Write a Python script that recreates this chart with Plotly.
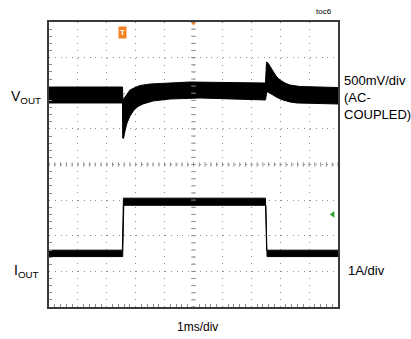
import numpy as np
import plotly.graph_objects as go

# ---- data (time in ms, VOUT in mV relative to pre-step level, IOUT in A relative to low level)
vout_upper_t = [-5.0, -2.457, -2.44, -2.37, -2.30, -2.197, -2.059, -1.851, -1.505, -0.986, -0.121,
                2.491, 2.526, 2.578, 2.647, 2.751, 2.855, 2.993, 3.166, 3.339, 3.685, 5.0]
vout_upper_mv = [112, 112, -70, -28, 14, 70, 98, 133, 154, 168, 182,
                 168, 463, 449, 407, 330, 267, 211, 168, 140, 119, 105]
vout_lower_t = [-5.0, -2.457, -2.45, -2.422, -2.37, -2.301, -2.197, -2.059, -1.92, -1.747, -1.401,
                -0.813, 0.225, 2.491, 2.533, 2.578, 2.751, 2.924, 3.097, 3.339, 3.581, 5.0]
vout_lower_mv = [-112, -112, -604, -611, -505, -393, -295, -211, -161, -126, -84,
                 -56, -42, -70, 42, 42, 0, -42, -70, -98, -112, -126]

iout_upper_t = [-5.0, -2.462, -2.425, 2.49, 2.53, 5.0]
iout_upper_a = [0.09, 0.09, 1.55, 1.55, 0.09, 0.09]
iout_lower_t = [-5.0, -2.45, -2.412, 2.505, 2.545, 5.0]
iout_lower_a = [-0.09, -0.09, 1.35, 1.35, -0.09, -0.09]

trigger_t = -2.44
trigger_level_t = 4.82
trigger_level_div = -1.40

# ---- screen geometry (divisions)
VOUT_ZERO_DIV = 1.951   # screen division where VOUT 0 mV sits
IOUT_ZERO_DIV = -2.495  # screen division where IOUT 0 A sits

fig = go.Figure()

trace_col = "#000000"
fig.add_trace(go.Scatter(x=vout_upper_t, y=vout_upper_mv, yaxis="y2", mode="lines",
                         line=dict(color=trace_col, width=1), hoverinfo="skip", showlegend=False))
fig.add_trace(go.Scatter(x=vout_lower_t, y=vout_lower_mv, yaxis="y2", mode="lines", fill="tonexty",
                         fillcolor=trace_col, line=dict(color=trace_col, width=1),
                         hoverinfo="skip", showlegend=False))
fig.add_trace(go.Scatter(x=iout_upper_t, y=iout_upper_a, yaxis="y3", mode="lines",
                         line=dict(color=trace_col, width=1), hoverinfo="skip", showlegend=False))
fig.add_trace(go.Scatter(x=iout_lower_t, y=iout_lower_a, yaxis="y3", mode="lines", fill="tonexty",
                         fillcolor=trace_col, line=dict(color=trace_col, width=1),
                         hoverinfo="skip", showlegend=False))

# markers: trigger position (top), trigger level (right)
fig.add_trace(go.Scatter(x=[0], y=[4.0], mode="markers", cliponaxis=False,
                         marker=dict(symbol="triangle-down", size=7, color="#F58220"),
                         hoverinfo="skip", showlegend=False))
fig.add_trace(go.Scatter(x=[trigger_level_t], y=[trigger_level_div], mode="markers", cliponaxis=False,
                         marker=dict(symbol="triangle-left", size=6, color="#2CA02C"),
                         hoverinfo="skip", showlegend=False))

grid_col = "#8c8c8c"
fig.update_layout(
    width=411, height=339,
    margin=dict(l=49, r=73, t=22, b=32),
    paper_bgcolor="white", plot_bgcolor="white",
    font=dict(family="Liberation Sans, Arial, sans-serif", color="black"),
    xaxis=dict(range=[-5, 5], dtick=1, tick0=0, showgrid=True, gridcolor=grid_col, gridwidth=1,
               griddash="1px,6.1px", zeroline=False, showticklabels=False, ticks="",
               showline=True, linecolor="#3a3a3a", linewidth=2, mirror=True,
               minor=dict(dtick=0.2, tick0=0, ticks="inside", ticklen=3, tickcolor=grid_col,
                          showgrid=False)),
    yaxis=dict(range=[-4, 4], dtick=1, tick0=0, showgrid=True, gridcolor=grid_col, gridwidth=1,
               griddash="1px,4.8px", zeroline=False, showticklabels=False, ticks="",
               showline=True, linecolor="#3a3a3a", linewidth=2, mirror=True,
               minor=dict(dtick=0.2, tick0=0, ticks="inside", ticklen=3, tickcolor=grid_col,
                          showgrid=False)),
    yaxis2=dict(overlaying="y", range=[(-4 - VOUT_ZERO_DIV) * 500, (4 - VOUT_ZERO_DIV) * 500],
                visible=False, showgrid=False, zeroline=False),
    yaxis3=dict(overlaying="y", range=[(-4 - IOUT_ZERO_DIV) * 1, (4 - IOUT_ZERO_DIV) * 1],
                visible=False, showgrid=False, zeroline=False),
)

# center cross tick marks
shapes = []
for v in np.arange(-5, 5.001, 0.2):
    shapes.append(dict(type="line", xref="x", yref="y", x0=v, x1=v, y0=-0.06, y1=0.06,
                       line=dict(color=grid_col, width=1)))
for v in np.arange(-4, 4.001, 0.2):
    shapes.append(dict(type="line", xref="x", yref="y", x0=-0.08, x1=0.08, y0=v, y1=v,
                       line=dict(color=grid_col, width=1)))
fig.update_layout(shapes=shapes)

def px2paper_x(px):
    return (px - 49) / 289.0

def px2paper_y(py):
    return (307 - py) / 285.0

ann = [
    dict(text="V<sub>OUT</sub>", x=px2paper_x(43), y=px2paper_y(97), xanchor="right", yanchor="middle",
         font=dict(size=14)),
    dict(text="I<sub>OUT</sub>", x=px2paper_x(41), y=px2paper_y(271), xanchor="right", yanchor="middle",
         font=dict(size=14)),
    dict(text="500mV/div<br>(AC-<br>COUPLED)", x=px2paper_x(342), y=px2paper_y(97), xanchor="left",
         yanchor="middle", align="left", font=dict(size=13)),
    dict(text="1A/div", x=px2paper_x(346), y=px2paper_y(270), xanchor="left", yanchor="middle",
         font=dict(size=13)),
    dict(text="1ms/div", x=px2paper_x(197), y=px2paper_y(327), xanchor="center", yanchor="middle",
         font=dict(size=12)),
    dict(text="toc6", x=px2paper_x(324), y=px2paper_y(12), xanchor="center", yanchor="middle",
         font=dict(size=8)),
    dict(text="<b>T</b>", x=trigger_t, y=3.71, xref="x", yref="y", showarrow=False,
         bgcolor="#F58220", borderpad=1, font=dict(size=8, color="white")),
]
for a in ann:
    a.setdefault("xref", "paper")
    a.setdefault("yref", "paper")
    a["showarrow"] = False
fig.update_layout(annotations=ann)

fig.write_html("out.html")
